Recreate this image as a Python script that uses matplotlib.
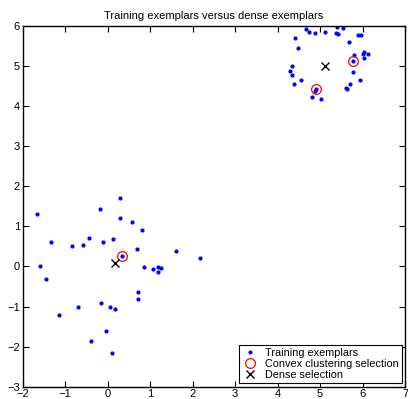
import matplotlib
matplotlib.use('Agg')
import matplotlib.pyplot as plt

plt.rcParams['font.family'] = ['Liberation Sans', 'DejaVu Sans']
plt.rcParams['axes.unicode_minus'] = True

# training exemplars
train_x = [-1.67, -1.60, -1.45, -1.34, -1.15, -0.84, -0.70, -0.59, -0.44, -0.40,
           -0.19, -0.15, -0.10, -0.05, 0.06, 0.11, 0.12, 0.17, 0.28, 0.28,
           0.33, 0.57, 0.68, 0.71, 0.72, 0.82, 0.86, 1.07, 1.18, 1.19,
           1.25, 1.62, 2.18,
           4.68, 4.74, 4.89, 5.12, 5.40, 5.37, 5.43, 5.53, 4.40, 4.49,
           5.68, 5.89, 5.96, 5.81, 6.04, 6.01, 6.12, 6.04, 5.78, 5.78,
           5.95, 5.71, 5.61, 5.63, 4.34, 4.30, 4.33, 4.56, 4.39, 4.91,
           4.88, 4.81, 5.03]
train_y = [1.31, 0.01, -0.31, 0.60, -1.20, 0.52, -1.00, 0.54, 0.72, -1.87,
           1.43, -0.92, 0.62, -1.60, -1.01, -2.17, 0.68, -1.05, 1.71, 1.21,
           0.27, 1.11, 0.44, -0.64, -0.80, 0.91, -0.02, -0.06, -0.02, -0.15,
           -0.04, 0.39, 0.22,
           5.92, 5.85, 5.83, 5.86, 5.97, 5.83, 5.81, 5.94, 5.69, 5.46,
           5.60, 5.77, 5.78, 5.27, 5.36, 5.30, 5.30, 5.20, 5.12, 4.86,
           4.65, 4.55, 4.45, 4.44, 5.00, 4.88, 4.77, 4.65, 4.55, 4.43,
           4.39, 4.23, 4.18]

# convex clustering selection
conv_x = [0.33, 4.91, 5.78]
conv_y = [0.26, 4.43, 5.12]

# dense selection
dense_x = [0.17, 5.12]
dense_y = [0.08, 5.00]

fig = plt.figure(figsize=(4.08, 3.99), dpi=100)
ax = fig.add_axes([0.0556, 0.0308, 0.937, 0.904])

ax.plot(train_x, train_y, '.', color='#0000ff', markersize=4, label='Training exemplars')
ax.plot(conv_x, conv_y, 'o', mfc='none', mec='#ff0000', markersize=7, mew=0.9,
        label='Convex clustering selection')
ax.plot(dense_x, dense_y, 'x', color='black', markersize=6, mew=1.0, label='Dense selection')

ax.set_xlim(-2, 7)
ax.set_ylim(-3, 6)
ax.set_xticks(range(-2, 8))
ax.set_yticks(range(-3, 7))
ax.tick_params(direction='in', top=True, right=True, length=4, width=0.8,
               labelsize=8, pad=2)
for s in ax.spines.values():
    s.set_linewidth(1.0)
ax.set_title('Training exemplars versus dense exemplars', fontsize=8, pad=5)

leg = ax.legend(loc='lower right', fontsize=7.8, fancybox=False, framealpha=1,
                edgecolor='black', borderpad=0.3, labelspacing=0.1,
                handlelength=1.5, handletextpad=0.6, borderaxespad=0.3)
leg.get_frame().set_linewidth(0.8)

fig.savefig('out.png', dpi=100)
